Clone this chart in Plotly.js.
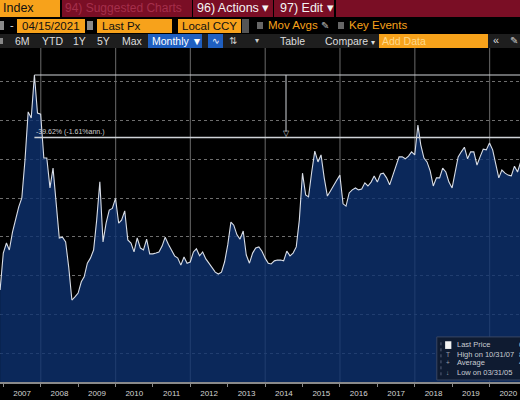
<!DOCTYPE html>
<html>
<head>
<meta charset="utf-8">
<script src="https://cdn.plot.ly/plotly-3.0.1.min.js"></script>
<style>
  html, body { margin:0; padding:0; background:#000; width:520px; height:400px; overflow:hidden; }
  body { font-family: "Liberation Sans", Arial, sans-serif; position:relative; }
  .a { position:absolute; white-space:nowrap; }
  #row1 { position:absolute; left:0; top:0; width:520px; height:17px; background:#000; }
  #row2 { position:absolute; left:0; top:18px; width:520px; height:16px; background:#000; }
  #row3 { position:absolute; left:0; top:34px; width:520px; height:14px; background:#1e1e1e; }
  .orange { background:#f7a21b; color:#111; }
  .crim { background:#7a0e25; }
  #chart { position:absolute; left:0; top:48px; width:520px; height:352px; }
</style>
</head>
<body>
<div id="row1">
  <div class="a orange" style="left:0;top:0;width:60px;height:17px;font-size:12.5px;line-height:17px;padding-left:3px;box-sizing:border-box;">Index</div>
  <div class="a crim" style="left:62px;top:0;width:130px;height:17px;font-size:12px;line-height:17px;color:#a52f4b;padding-left:3px;box-sizing:border-box;">94) Suggested Charts</div>
  <div class="a crim" style="left:193px;top:0;width:80px;height:17px;font-size:12.5px;line-height:17px;color:#f4f4f4;padding-left:4px;box-sizing:border-box;">96) Actions &#9662;</div>
  <div class="a crim" style="left:274px;top:0;width:60px;height:17px;font-size:12.5px;line-height:17px;color:#f4f4f4;padding-left:6px;box-sizing:border-box;">97) Edit &#9662;</div>
  <div class="a crim" style="left:336px;top:0;width:184px;height:17px;"></div>
</div>
<div id="row2">
  <div class="a" style="left:0;top:3px;width:4px;height:9px;background:#8a8a8a;"></div>
  <div class="a" style="left:10px;top:0;font-size:11px;line-height:15px;color:#ddd;">-</div>
  <div class="a orange" style="left:17px;top:1px;width:68px;height:14px;font-size:11.5px;line-height:14px;padding-left:5px;box-sizing:border-box;">04/15/2021</div>
  <div class="a" style="left:87px;top:3px;width:6px;height:9px;background:#8a8a8a;"></div>
  <div class="a orange" style="left:97px;top:1px;width:75px;height:14px;font-size:11.5px;line-height:14px;padding-left:5px;box-sizing:border-box;">Last Px</div>
  <div class="a orange" style="left:178px;top:1px;width:63px;height:14px;font-size:11.5px;line-height:14px;padding-left:4px;box-sizing:border-box;">Local CCY</div>
  <div class="a" style="left:242px;top:1px;width:7px;height:14px;background:#555;"></div>
  <div class="a" style="left:257px;top:4px;width:6px;height:7px;background:#666;"></div>
  <div class="a" style="left:268px;top:0;font-size:11.5px;line-height:15px;color:#f7a21b;">Mov Avgs <span style="color:#bbb;font-size:10px;">&#9998;</span></div>
  <div class="a" style="left:338px;top:4px;width:6px;height:7px;background:#666;"></div>
  <div class="a" style="left:349px;top:0;font-size:11.5px;line-height:15px;color:#f7a21b;">Key Events</div>
</div>
<div id="row3">
  <div class="a" style="left:0;top:4px;width:3px;height:6px;background:#888;"></div>
  <div class="a" style="left:15px;top:0;font-size:10.5px;line-height:14px;color:#ddd;">6M</div>
  <div class="a" style="left:42px;top:0;font-size:10.5px;line-height:14px;color:#ddd;">YTD</div>
  <div class="a" style="left:73px;top:0;font-size:10.5px;line-height:14px;color:#ddd;">1Y</div>
  <div class="a" style="left:97px;top:0;font-size:10.5px;line-height:14px;color:#ddd;">5Y</div>
  <div class="a" style="left:122px;top:0;font-size:10.5px;line-height:14px;color:#ddd;">Max</div>
  <div class="a" style="left:148px;top:0;width:54px;height:14px;background:#1f5fc0;font-size:10.5px;line-height:14px;color:#fff;padding-left:4px;box-sizing:border-box;">Monthly &#9660;</div>
  <div class="a" style="left:208px;top:0;width:15px;height:14px;background:#1f5fc0;font-size:9px;line-height:14px;color:#fff;text-align:center;">&#8767;</div>
  <div class="a" style="left:229px;top:0;font-size:10px;line-height:14px;color:#ccc;">&#8645;</div>
  <div class="a" style="left:255px;top:0;font-size:8px;line-height:14px;color:#ccc;">&#9662;</div>
  <div class="a" style="left:280px;top:0;font-size:10.5px;line-height:14px;color:#ddd;">Table</div>
  <div class="a" style="left:325px;top:0;font-size:10.5px;line-height:14px;color:#ddd;">Compare <span style="font-size:8px;">&#9662;</span></div>
  <div class="a orange" style="left:379px;top:0;width:109px;height:14px;font-size:10.5px;line-height:14px;color:#ffd98a;padding-left:3px;box-sizing:border-box;">Add Data</div>
  <div class="a" style="left:493px;top:0;font-size:11px;line-height:13px;color:#ddd;">&laquo;</div>
  <div class="a" style="left:510px;top:0;font-size:10px;line-height:14px;color:#ccc;">&#9998;</div>
</div>
<div id="chart"></div>
<script>
// Monthly values (month-end)
const v2006 = [2.63, 3.58]; // Nov, Dec
const v2007 = [3.84, 3.66, 4.12, 4.46, 4.77, 5.00, 5.98, 7.22, 7.06, 8.17, 7.19, 7.16];
const v2008 = [6.03, 6.03, 5.26, 5.77, 4.95, 3.97, 3.99, 3.87, 3.22, 2.37, 2.45, 2.55];
const v2009 = [2.84, 2.97, 3.32, 3.45, 3.66, 4.43, 5.42, 3.87, 4.35, 4.69, 4.73, 4.99];
const v2010 = [4.35, 4.43, 4.67, 3.92, 3.84, 3.61, 3.97, 3.71, 3.66, 3.94, 3.56, 3.56];
const v2011 = [3.58, 3.61, 3.76, 3.99, 3.81, 3.66, 3.51, 3.45, 3.27, 3.48, 3.32, 3.35];
const v2012 = [3.61, 3.69, 3.51, 3.61, 3.43, 3.32, 3.20, 3.09, 3.04, 3.09, 3.35, 3.79];
const v2013 = [4.38, 4.30, 4.05, 3.94, 4.15, 3.53, 3.32, 3.58, 3.71, 3.74, 3.63, 3.45];
const v2014 = [3.32, 3.30, 3.38, 3.40, 3.40, 3.38, 3.63, 3.51, 3.58, 3.74, 4.43, 5.64];
const v2015 = [5.08, 5.03, 5.67, 6.21, 5.93, 6.11, 5.52, 5.05, 5.18, 5.34, 5.46, 5.59];
const v2016 = [4.85, 4.79, 5.13, 5.21, 5.26, 5.21, 5.23, 5.39, 5.31, 5.41, 5.57, 5.41];
const v2017 = [5.62, 5.64, 5.52, 5.34, 5.59, 5.77, 6.06, 6.06, 6.01, 6.08, 6.19, 6.11];
const v2018 = [6.88, 6.37, 6.03, 5.93, 5.70, 5.31, 5.52, 5.52, 5.77, 5.67, 5.41, 5.26];
const v2019 = [5.72, 6.06, 6.19, 6.31, 6.01, 6.19, 6.19, 5.85, 6.06, 6.26, 6.24, 6.42];
const v2020 = [6.24, 5.93, 5.52, 5.72, 5.64, 5.59, 5.57, 5.82, 5.67, 5.93]; // Jan..Oct

const lastPrice = 6.56;
const lastDate = '2021-04-15';
const changeText = '-39.62% (-1.61%ann.)';
const legendLabels = ['Last Price', 'High on 10/31/07', 'Average', 'Low on 03/31/05'];
const legendIcons = ['', 'T', '+', '\u2193'];
const gridYears = [2008, 2010, 2012, 2014, 2016, 2018, 2020];

const values = [].concat(v2006, v2007, v2008, v2009, v2010, v2011, v2012, v2013,
                          v2014, v2015, v2016, v2017, v2018, v2019, v2020);
const dates = values.map((_, i) => new Date(Date.UTC(2006, 11 + i, 0)).toISOString().slice(0, 10));

const highVal = Math.max(...values);
const highDate = dates[values.indexOf(highVal)];
const avgVal = values.reduce((a, b) => a + b, 0) / values.length;
const midDate = new Date((Date.parse(highDate) + Date.parse(lastDate)) / 2).toISOString().slice(0, 10);
const legendValues = [lastPrice.toFixed(4), highVal.toFixed(4), avgVal.toFixed(4), ''];

const LC = '#cfd3d8';
const GC = '#6e6e6e';
const font = { family: 'Liberation Sans, Arial, sans-serif' };

const traces = [
  {
    x: dates, y: values, type: 'scatter', mode: 'lines',
    line: { color: '#d8dde6', width: 1.1 },
    fill: 'tozeroy', fillcolor: 'rgba(14,50,112,0.80)',
    hoverinfo: 'skip', showlegend: false
  }
];

const xr = ['2006-11-29', '2020-10-24'];
const yr = [0.258, 8.866];

const shapes = gridYears.map(yv => ({
  type: 'line', layer: 'below', xref: 'x', yref: 'paper', x0: yv + '-01-01', x1: yv + '-01-01', y0: 0, y1: 1,
  line: { color: '#595959', width: 1.2 }
}));
shapes.push(
  { type: 'line', xref: 'x', yref: 'y', x0: highDate, x1: lastDate, y0: highVal, y1: highVal, line: { color: LC, width: 1.2 } },
  { type: 'line', xref: 'x', yref: 'y', x0: highDate, x1: lastDate, y0: lastPrice, y1: lastPrice, line: { color: LC, width: 1.6 } },
  { type: 'line', xref: 'x', yref: 'y', x0: midDate, x1: midDate, y0: highVal, y1: lastPrice + 0.15, line: { color: LC, width: 1 } },
  { type: 'rect', xref: 'paper', yref: 'paper', x0: 0.840, x1: 1.02, y0: 0.006, y1: 0.135,
    fillcolor: '#0f1b31', line: { color: '#3a4662', width: 1 } },
  { type: 'line', xref: 'paper', yref: 'paper', x0: 0.848, x1: 0.848, y0: 0.02, y1: 0.122,
    line: { color: '#56607a', width: 1, dash: 'dot' } },
  { type: 'rect', xref: 'paper', yref: 'paper', x0: 0.856, x1: 0.868, y0: 0.099, y1: 0.122,
    fillcolor: '#f2f2f2', line: { width: 0 } }
);

const annotations = [
  { x: midDate, y: lastPrice, xref: 'x', yref: 'y', text: '\u25BD', showarrow: false,
    yanchor: 'bottom', yshift: -3, font: Object.assign({ size: 8, color: LC }, font) },
  { x: highDate, y: lastPrice, xref: 'x', yref: 'y', text: changeText, showarrow: false,
    xanchor: 'left', yanchor: 'bottom', yshift: -1, font: Object.assign({ size: 7, color: '#cfcfcf' }, font) }
];
const rowY = [0.1108, 0.0838, 0.0569, 0.0299];
legendLabels.forEach((lab, i) => {
  annotations.push({ x: 0.875, y: rowY[i], xref: 'paper', yref: 'paper', text: lab, showarrow: false,
    xanchor: 'left', yanchor: 'middle', font: Object.assign({ size: 7.5, color: '#c9ccd2' }, font) });
  if (legendValues[i]) {
    annotations.push({ x: 0.9935, y: rowY[i], xref: 'paper', yref: 'paper', text: legendValues[i], showarrow: false,
      xanchor: 'left', yanchor: 'middle', font: Object.assign({ size: 7.5, color: '#c9ccd2' }, font) });
  }
  if (legendIcons[i]) {
    annotations.push({ x: 0.861, y: rowY[i], xref: 'paper', yref: 'paper', text: legendIcons[i], showarrow: false,
      xanchor: 'center', yanchor: 'middle', font: Object.assign({ size: 6.5, color: '#9aa0ab' }, font) });
  }
});

const layout = {
  width: 520, height: 352,
  margin: { l: 0, r: 0, t: 0, b: 18, pad: 0 },
  paper_bgcolor: '#000', plot_bgcolor: '#000',
  showlegend: false,
  font: Object.assign({ color: '#d0d0d0', size: 8 }, font),
  xaxis: {
    type: 'date', range: xr, tick0: '2007-01-01', dtick: 'M12', tickformat: '%Y',
    ticklabelmode: 'period', ticks: 'outside', ticklen: 3, tickcolor: '#8a8a8a',
    showgrid: false, zeroline: false, showline: true, linecolor: '#8a8a8a', linewidth: 1.5,
    tickfont: Object.assign({ size: 8, color: '#d4d4d4' }, font), fixedrange: true
  },
  yaxis: {
    range: yr, tick0: 0, dtick: 1, showgrid: true, gridcolor: GC, griddash: 'dot', gridwidth: 1,
    showticklabels: false, ticks: '', zeroline: false, showline: false, fixedrange: true
  },
  shapes: shapes,
  annotations: annotations
};

Plotly.newPlot('chart', traces, layout, { displayModeBar: false, staticPlot: true });
</script>
</body>
</html>
